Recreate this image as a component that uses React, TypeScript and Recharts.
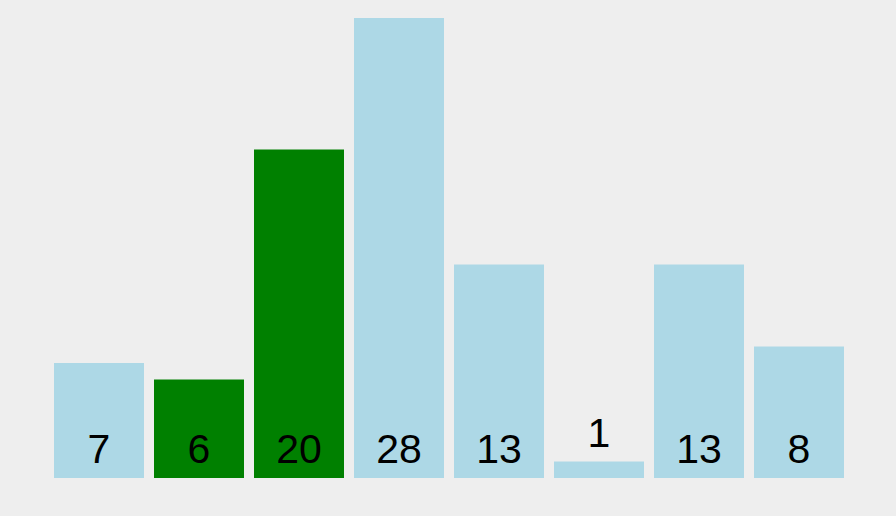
import { Bar, BarChart, Cell, LabelList, XAxis, YAxis } from "recharts";

const categories = ["a", "b", "c", "d", "e", "f", "g", "h"];
const values = [7, 6, 20, 28, 13, 1, 13, 8];
const highlighted = [false, true, true, false, false, false, false, false];

const data = categories.map((name, i) => ({ name, value: values[i], hot: highlighted[i] }));

function ValueLabel(props: any) {
  const { x, y, width, height, value } = props;
  const bottom = y + height;
  // short bars get the number above them, the rest keep it near the bottom
  const baseline = height < 40 ? y - 15 : bottom - 15;
  return (
    <text
      x={x + width / 2}
      y={baseline}
      textAnchor="middle"
      fill="#000000"
      fontSize={41}
      fontFamily="'Liberation Sans', Arial, sans-serif"
    >
      {value}
    </text>
  );
}

export default function App() {
  return (
    <div style={{ position: "absolute", left: 0, top: 0, width: 896, height: 516, background: "#eeeeee" }}>
      <BarChart
        width={896}
        height={516}
        data={data}
        margin={{ top: 18, right: 47, bottom: 38, left: 49 }}
        barCategoryGap={5}
      >
        <XAxis dataKey="name" hide />
        <YAxis domain={[0, 28]} hide />
        <Bar dataKey="value" isAnimationActive={false}>
          {data.map((d) => (
            <Cell key={d.name} fill={d.hot ? "#008000" : "#add8e6"} />
          ))}
          <LabelList dataKey="value" content={<ValueLabel />} />
        </Bar>
      </BarChart>
    </div>
  );
}
